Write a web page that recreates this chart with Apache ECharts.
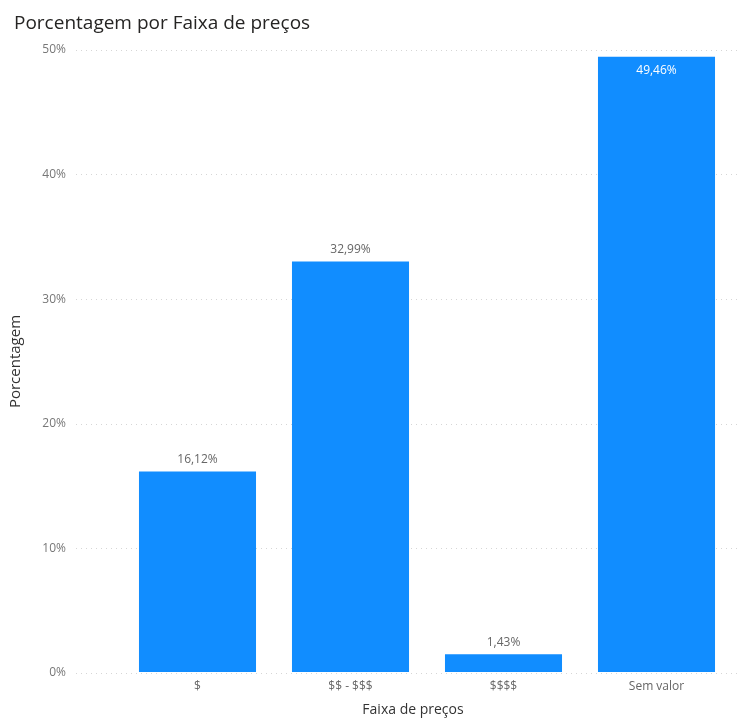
<!DOCTYPE html>
<html><head><meta charset="utf-8">
<script src="https://cdn.jsdelivr.net/npm/echarts@6/dist/echarts.min.js"></script>
<style>html,body{margin:0;padding:0;background:#fff}#c{width:747px;height:722px}</style>
</head><body><div id="c"></div>
<script>
const categories = ['$', '$$ - $$$', '$$$$', 'Sem valor'];
const percentValues = [16.12, 32.99, 1.43, 49.46];
const yTicks = [0, 10, 20, 30, 40, 50];

const fmt = v => v.toFixed(2).replace('.', ',') + '%';
const FONT = '"Open Sans", "Noto Sans", sans-serif';
const chart = echarts.init(document.getElementById('c'));
chart.setOption({
  backgroundColor: '#fff',
  animation: false,
  title: {
    text: 'Porcentagem por Faixa de preços',
    left: 9, top: 9,
    textStyle: { fontFamily: FONT, fontSize: 19, fontWeight: 'normal', color: '#252423' }
  },
  grid: [
    { left: 75, right: 7, top: 50, bottom: 49 },
    { left: 121, right: 14, top: 50, bottom: 49 }
  ],
  xAxis: [
    { type: 'category', gridIndex: 0, data: categories, show: false },
    { type: 'category', gridIndex: 1, data: categories,
      axisLine: { show: false }, axisTick: { show: false },
      axisLabel: { color: '#666', fontFamily: FONT, fontSize: 12, margin: 9 },
      name: 'Faixa de preços', nameLocation: 'middle', nameGap: 31,
      nameTextStyle: { color: '#333', fontFamily: FONT, fontSize: 14, padding: [0, 28, 0, 0] }
    }
  ],
  yAxis: [
    { type: 'value', gridIndex: 0, min: yTicks[0], max: yTicks[yTicks.length - 1], interval: 10,
      axisLine: { show: false }, axisTick: { show: false },
      axisLabel: { color: '#777', fontFamily: FONT, fontSize: 12, margin: 10, formatter: v => v + '%' },
      splitLine: { lineStyle: { color: '#d6d6d6', type: [1, 4], width: 1 } },
      name: 'Porcentagem', nameLocation: 'middle', nameGap: 53, nameRotate: 90,
      nameTextStyle: { color: '#333', fontFamily: FONT, fontSize: 15 }
    },
    { type: 'value', gridIndex: 1, min: yTicks[0], max: yTicks[yTicks.length - 1], show: false, splitLine: { show: false } }
  ],
  series: [{
    type: 'bar', xAxisIndex: 1, yAxisIndex: 1,
    data: percentValues.map((v, i) => ({
      value: v,
      label: i === 3 ? { position: 'insideTop', color: '#fff', distance: 8 } : {}
    })),
    barCategoryGap: '23.5%',
    itemStyle: { color: '#118DFF' },
    label: {
      show: true, position: 'top', distance: 6, color: '#666',
      fontFamily: FONT, fontSize: 12,
      formatter: p => fmt(p.value)
    }
  }]
});
</script></body></html>
